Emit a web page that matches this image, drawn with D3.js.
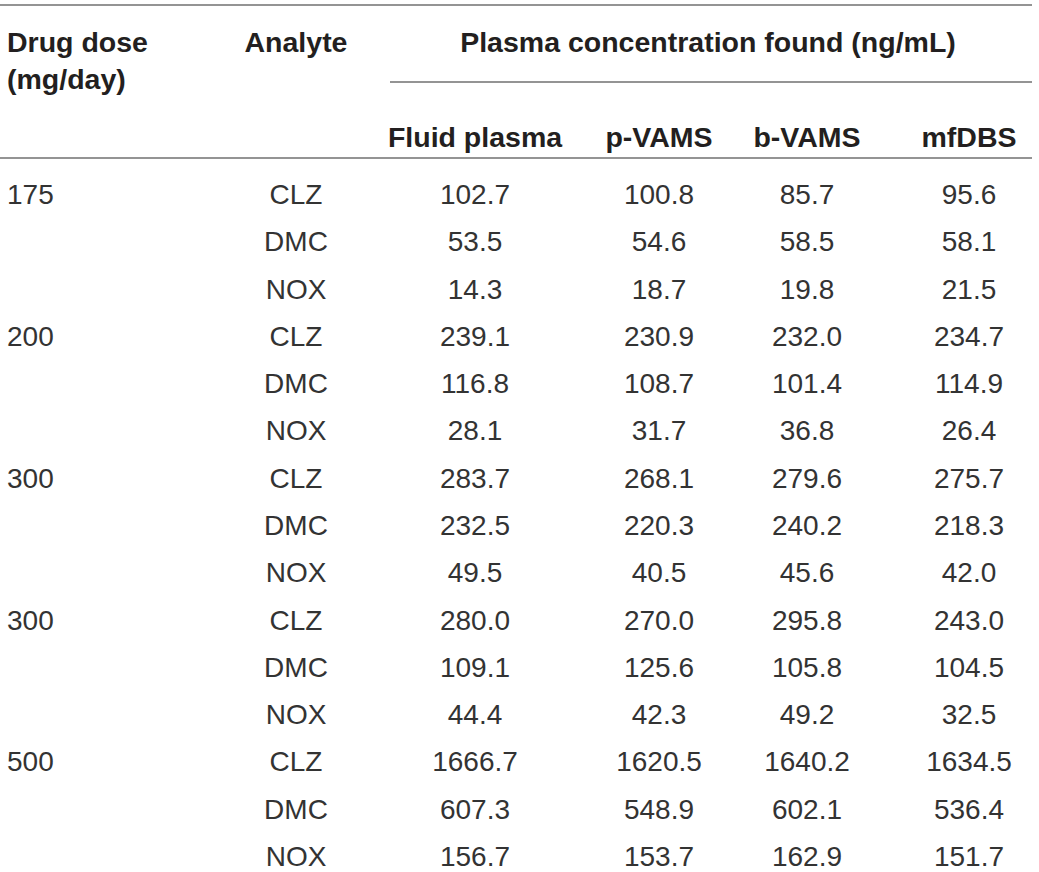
<!DOCTYPE html>
<html>
<head>
<meta charset="utf-8">
<script src="https://cdn.jsdelivr.net/npm/d3@7"></script>
<style>
  body { margin: 0; background: #fff; }
  svg text { font-family: "Liberation Sans", Arial, Helvetica, sans-serif; }
</style>
</head>
<body>
<svg id="table" width="1039" height="872"></svg>
<script>
// table data
const doses = ["175", "200", "300", "300", "500"];
const analytes = ["CLZ", "DMC", "NOX"];
const methods = ["Fluid plasma", "p-VAMS", "b-VAMS", "mfDBS"];
const fluidPlasma = [102.7, 53.5, 14.3, 239.1, 116.8, 28.1, 283.7, 232.5, 49.5, 280.0, 109.1, 44.4, 1666.7, 607.3, 156.7];
const pVams = [100.8, 54.6, 18.7, 230.9, 108.7, 31.7, 268.1, 220.3, 40.5, 270.0, 125.6, 42.3, 1620.5, 548.9, 153.7];
const bVams = [85.7, 58.5, 19.8, 232.0, 101.4, 36.8, 279.6, 240.2, 45.6, 295.8, 105.8, 49.2, 1640.2, 602.1, 162.9];
const mfDbs = [95.6, 58.1, 21.5, 234.7, 114.9, 26.4, 275.7, 218.3, 42.0, 243.0, 104.5, 32.5, 1634.5, 536.4, 151.7];

const svg = d3.select("#table");
const headSize = 28.5;
const bodySize = 28;
const lineColor = "#707070";
const headColor = "#231f20";
const bodyColor = "#333333";

// one row per dose x analyte
const rows = [];
doses.forEach((dose, d) => {
  analytes.forEach((an, a) => {
    const i = d * 3 + a;
    rows.push({
      dose: a === 0 ? dose : "",
      analyte: an,
      values: [fluidPlasma[i], pVams[i], bVams[i], mfDbs[i]]
    });
  });
});

// row baselines
const yScale = d3.scalePoint()
  .domain(d3.range(rows.length))
  .range([204, 866]);

// centre of each value column
const xValue = d3.scaleOrdinal()
  .domain(methods)
  .range([475, 659, 807, 969]);
const analyteX = 296;
const doseX = 7;

// rules
const rules = [
  { x1: 0, x2: 1032, y: 5 },
  { x1: 390, x2: 1032, y: 82 },
  { x1: 0, x2: 1032, y: 158 }
];
svg.append("g").selectAll("line")
  .data(rules)
  .join("line")
  .attr("x1", (r) => r.x1)
  .attr("x2", (r) => r.x2)
  .attr("y1", (r) => r.y)
  .attr("y2", (r) => r.y)
  .attr("stroke", lineColor)
  .attr("stroke-width", 1.5);

// header
const head = svg.append("g")
  .attr("font-weight", "bold")
  .attr("font-size", headSize)
  .attr("fill", headColor);

head.append("text").attr("x", doseX).attr("y", 52).text("Drug dose");
head.append("text").attr("x", doseX).attr("y", 89).text("(mg/day)");
head.append("text").attr("x", analyteX).attr("y", 52)
  .attr("text-anchor", "middle").text("Analyte");
head.append("text").attr("x", 708).attr("y", 52)
  .attr("text-anchor", "middle")
  .text("Plasma concentration found (ng/mL)");

head.selectAll("text.method")
  .data(methods)
  .join("text")
  .attr("class", "method")
  .attr("x", (m) => xValue(m))
  .attr("y", 147)
  .attr("text-anchor", "middle")
  .text((m) => m);

// body
const body = svg.append("g")
  .attr("font-size", bodySize)
  .attr("fill", bodyColor);

const rowGroups = body.selectAll("g.row")
  .data(rows)
  .join("g")
  .attr("class", "row")
  .attr("transform", (r, i) => `translate(0, ${yScale(i)})`);

rowGroups.append("text")
  .attr("x", doseX)
  .text((r) => r.dose);

rowGroups.append("text")
  .attr("x", analyteX)
  .attr("text-anchor", "middle")
  .text((r) => r.analyte);

rowGroups.selectAll("text.val")
  .data((r) => r.values.map((v, j) => ({ method: methods[j], value: v })))
  .join("text")
  .attr("class", "val")
  .attr("x", (c) => xValue(c.method))
  .attr("text-anchor", "middle")
  .text((c) => d3.format(".1f")(c.value));
</script>
</body>
</html>
